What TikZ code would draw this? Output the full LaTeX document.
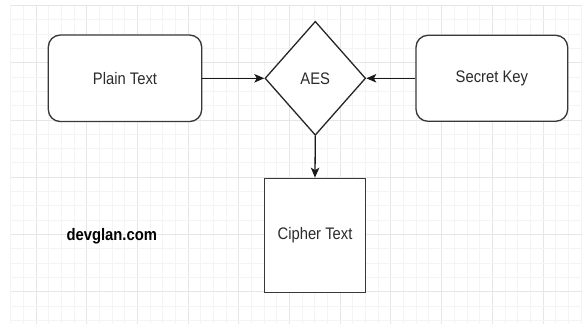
\documentclass[tikz,border=0pt]{standalone}
\usepackage{fontspec}
\setmainfont{Liberation Sans}
\newfontfamily\squish[FakeStretch=0.886]{Liberation Sans}
\usetikzlibrary{shapes.geometric,arrows.meta}
\definecolor{minorgrid}{HTML}{F4F4F4}
\definecolor{majorgrid}{HTML}{E6E6E6}
\definecolor{edge}{HTML}{383838}
\definecolor{txt}{HTML}{2B2B2B}
\tikzset{
  lbl/.style={font=\squish\fontsize{16.7}{18}\selectfont, text=txt},
  roundbox/.style={draw=edge, line width=1.35pt, rounded corners=12pt, fill=white, lbl, inner sep=0pt},
  sqbox/.style={draw=edge, line width=1.3pt, fill=white, lbl, inner sep=0pt},
  decision/.style={diamond, draw=black!85, line width=1.3pt, fill=white, lbl, inner sep=0pt, shape aspect=0.88},
  flow/.style={line width=1.3pt, draw=black!90, -{Stealth[length=10pt,width=8.5pt,inset=2.5pt]}},
}
\begin{document}
\begin{tikzpicture}[x=1pt,y=-1pt]
\useasboundingbox (0,0) rectangle (582,324);
\fill[white] (0,0) rectangle (582,324);
% grid
\foreach \i in {0,...,45}{
  \pgfmathsetmacro\gx{10.6+12.675*\i}
  \pgfmathtruncatemacro\gm{mod(\i,4)}
  \ifnum\gm=2
    \draw[majorgrid, line width=0.9pt] (\gx,5.45) -- (\gx,324);
  \else
    \draw[minorgrid, line width=0.8pt] (\gx,5.45) -- (\gx,324);
  \fi
}
\foreach \j in {0,...,22}{
  \pgfmathsetmacro\gy{5.45+14.3125*\j}
  \pgfmathtruncatemacro\gm{mod(\j,4)}
  \ifnum\gm=0
    \draw[majorgrid, line width=0.9pt] (10.6,\gy) -- (582,\gy);
  \else
    \draw[minorgrid, line width=0.8pt] (10.6,\gy) -- (582,\gy);
  \fi
}
% nodes
\node[roundbox, minimum width=153.4pt, minimum height=86.5pt] (plain) at (125,78.3) {Plain Text};
\node[roundbox, minimum width=151.7pt, minimum height=86pt] (key) at (491.85,78.3) {Secret Key};
\node[decision, minimum width=100.7pt, minimum height=114pt] (aes) at (315.3,78.3) {AES};
\node[sqbox, minimum width=101.4pt, minimum height=114pt] (cipher) at (315,235.3) {Cipher Text};
\node[lbl, text=black, font=\squish\bfseries\fontsize{16.7}{18}\selectfont] (brand) at (111.8,236.7) {devglan.com};
% connectors
\draw[flow] (plain.east) -- (aes.west);
\draw[flow] (key.west) -- (aes.east);
\draw[flow] (aes.south) -- (cipher.north);
\end{tikzpicture}
\end{document}
